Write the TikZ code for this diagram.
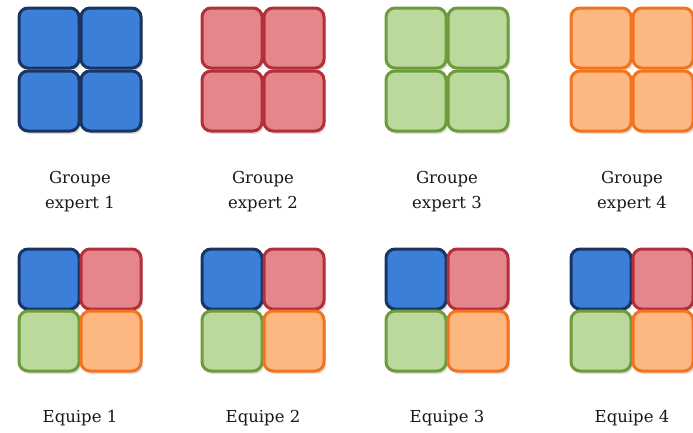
\documentclass[tikz,border=0pt]{standalone}
\usepackage{fontspec}
\setmainfont{DejaVu Serif}
\usetikzlibrary{shadows}
\definecolor{bluefill}{HTML}{3C7FD9}
\definecolor{blueline}{HTML}{1B3563}
\definecolor{redfill}{HTML}{E5868C}
\definecolor{redline}{HTML}{B3303B}
\definecolor{greenfill}{HTML}{BBD99C}
\definecolor{greenline}{HTML}{6E9C3C}
\definecolor{orangefill}{HTML}{FDB882}
\definecolor{orangeline}{HTML}{F2741F}
\tikzset{
  sq/.style={draw, line width=3pt, rounded corners=9pt, minimum size=60pt,
    inner sep=0pt, drop shadow={shadow xshift=2pt, shadow yshift=-3pt, opacity=0.25}},
  lbl/.style={font=\fontsize{16.5}{25}\selectfont, align=center, text=black!90}
}
\begin{document}
\begin{tikzpicture}[x=1pt,y=-1pt]
\useasboundingbox (0,0) rectangle (693,432);
% groupes experts
\foreach \i/\cx/\f/\l in {1/80/bluefill/blueline,2/263/redfill/redline,
  3/447/greenfill/greenline,4/632/orangefill/orangeline}{
  \node[sq, fill=\f, draw=\l] (g\i a) at (\cx-31,38) {};
  \node[sq, fill=\f, draw=\l] (g\i b) at (\cx+31,38) {};
  \node[sq, fill=\f, draw=\l] (g\i c) at (\cx-31,101) {};
  \node[sq, fill=\f, draw=\l] (g\i d) at (\cx+31,101) {};
  \node[lbl] (gl\i) at (\cx,192) {Groupe\\expert \i};
}
% equipes
\foreach \i/\cx in {1/80,2/263,3/447,4/632}{
  \node[sq, fill=bluefill, draw=blueline] (e\i a) at (\cx-31,279) {};
  \node[sq, fill=redfill, draw=redline] (e\i b) at (\cx+31,279) {};
  \node[sq, fill=greenfill, draw=greenline] (e\i c) at (\cx-31,341) {};
  \node[sq, fill=orangefill, draw=orangeline] (e\i d) at (\cx+31,341) {};
  \node[lbl] (el\i) at (\cx,418) {Equipe \i};
}
\end{tikzpicture}
\end{document}
